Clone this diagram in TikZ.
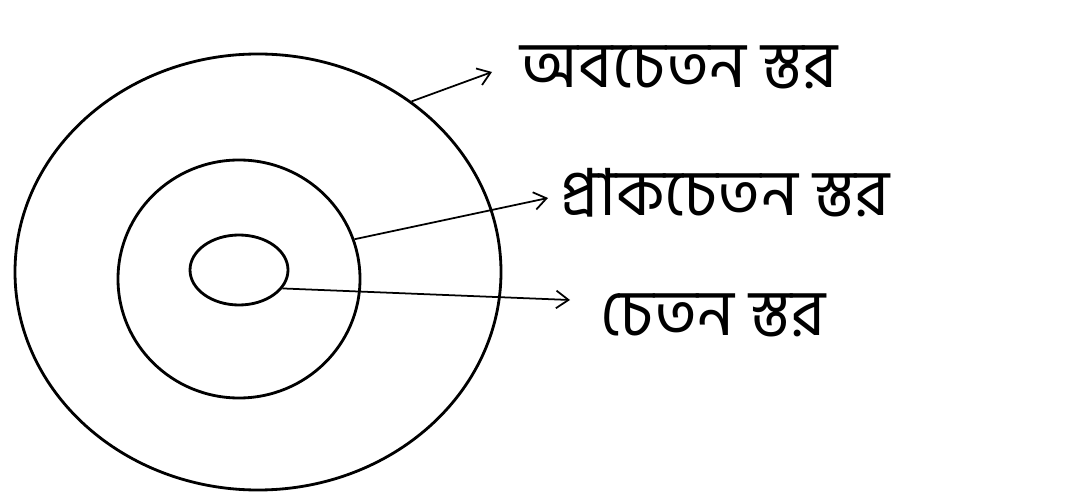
\documentclass[tikz,border=0pt]{standalone}
\usepackage{fontspec}
\newfontfamily\bnfont[Script=Bengali]{Hind Siliguri}
\usetikzlibrary{shapes.geometric}
\usetikzlibrary{arrows.meta}
\usetikzlibrary{positioning}

\begin{document}
\begin{tikzpicture}[
    layer/.style={ellipse, draw, line width=1.6pt, inner sep=0pt},
    label text/.style={anchor=west, inner sep=0pt, font=\bnfont\fontsize{37}{40}\selectfont},
  every path/.style={line width=1pt},
  ]
\tikzset{>={Straight Barb[length=7pt, width=10pt]}}
  \useasboundingbox (0,0) rectangle (21.34,9.9);

  \node[layer, minimum width=9.72cm, minimum height=8.72cm] (outer)  at (5.16, 4.46) {};
  \node[layer, minimum width=4.84cm, minimum height=4.76cm] (middle) at (4.78, 4.32) {};
  \node[layer, minimum width=1.96cm, minimum height=1.40cm] (inner)  at (4.78, 4.50) {};

  \coordinate (t1) at (9.84, 8.46);
  \coordinate (t2) at (10.96, 5.94);
  \coordinate (t3) at (11.40, 3.90);

  \node[label text] (sub) at (10.40, 8.55) {অবচেতন স্তর};
  \node[label text] (pre) at (11.20, 6.05) {প্রাকচেতন স্তর};
  \node[label text] (con) at (12.00, 3.60) {চেতন স্তর};

  \draw[->] (outer.48)  -- (t1);
  \draw[->] (middle.19) -- (t2);
  \draw[->] (inner.-23) -- (t3);

\end{tikzpicture}
\end{document}
